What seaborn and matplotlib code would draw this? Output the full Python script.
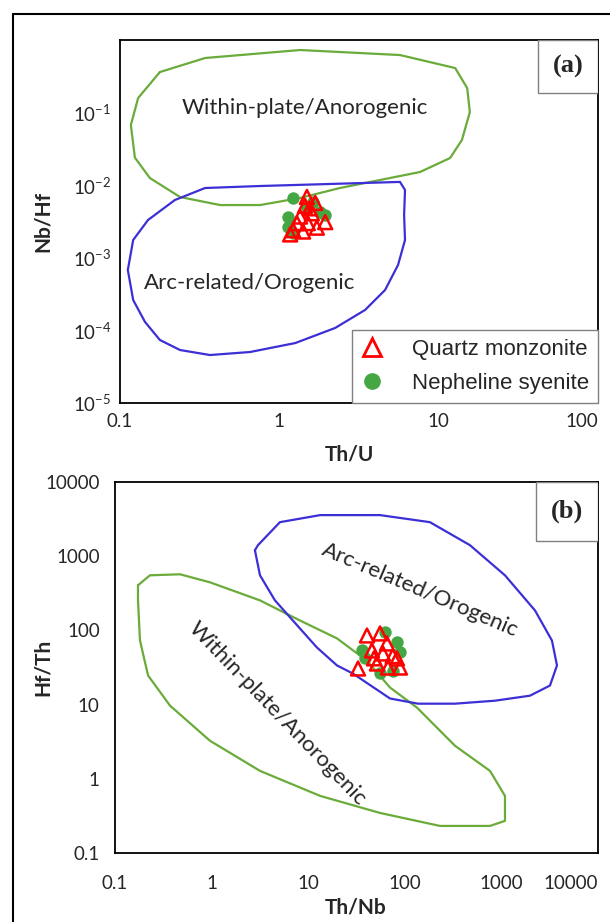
import numpy as np
import matplotlib
matplotlib.use('Agg')
import matplotlib.pyplot as plt
from matplotlib.lines import Line2D
from matplotlib.patches import Rectangle
from matplotlib.ticker import NullLocator
import seaborn as sns

sns.set_style('white')
plt.rcParams['font.family'] = ['Lato', 'DejaVu Sans']
plt.rcParams['mathtext.fontset'] = 'custom'
plt.rcParams['mathtext.rm'] = 'Lato'
plt.rcParams['mathtext.it'] = 'Lato:italic'
plt.rcParams['mathtext.bf'] = 'Lato:bold'

GREEN_LINE = '#6aab3a'
BLUE_LINE = '#3d2fd6'
RED = '#ff0000'
GREEN_DOT = '#45a743'

# ---- panel (a): Th/U vs Nb/Hf ----
wp_a_thu = [0.178, 0.342, 1.35, 5.72, 12.7, 15.1, 15.7, 14.0, 11.8, 7.64, 4.29, 2.40,
            1.35, 0.757, 0.425, 0.238, 0.154, 0.124, 0.117, 0.130]
wp_a_nbhf = [0.362, 0.565, 0.728, 0.621, 0.411, 0.218, 0.102, 0.042, 0.0237, 0.0152,
             0.0118, 0.00915, 0.00667, 0.00533, 0.00533, 0.00688, 0.01256, 0.024,
             0.0675, 0.159]

arc_a_thu = [0.342, 0.757, 2.08, 5.72, 6.15, 6.07, 6.15, 5.56, 4.61, 3.45, 2.24, 1.26,
             0.655, 0.367, 0.238, 0.178, 0.1435, 0.121, 0.112, 0.121, 0.150, 0.221]
arc_a_nbhf = [0.00915, 0.00975, 0.0104, 0.0111, 0.0086, 0.00389, 0.00176, 0.000796,
              0.00036, 0.000191, 0.000108, 6.7e-5, 5.04e-5, 4.58e-5, 5.37e-5, 7.38e-5,
              0.000131, 0.000262, 0.00068, 0.00176, 0.00332, 0.00625]

qm_a_thu = [1.49, 1.35, 1.60, 1.22, 1.41, 1.72, 1.94, 1.29, 1.51, 1.17, 1.68, 1.55, 1.45]
qm_a_nbhf = [0.0069, 0.0037, 0.0041, 0.0024, 0.0023, 0.0026, 0.0031, 0.0030, 0.0030,
             0.0021, 0.0057, 0.0048, 0.0052]
ns_a_thu = [1.22, 1.63, 1.13, 1.80, 1.94, 1.13, 1.22, 1.49]
ns_a_nbhf = [0.0067, 0.00587, 0.00365, 0.00427, 0.00389, 0.00266, 0.0022, 0.0050]

# ---- panel (b): Th/Nb vs Hf/Th ----
wp_b_thnb = [0.173, 0.230, 0.471, 0.962, 3.17, 8.23, 19.9, 40.6, 70.3, 134, 331, 762,
             1089, 1089, 762, 231, 55.4, 13.3, 3.17, 0.962, 0.371, 0.220, 0.1815, 0.173]
wp_b_hfth = [406, 553, 571, 445, 254, 136, 78, 39, 17, 9.1, 2.79, 1.28, 0.589, 0.271,
             0.232, 0.232, 0.347, 0.589, 1.28, 3.26, 9.7, 24.7, 73, 254]

arc_b_thnb = [2.81, 3.02, 5.10, 13.3, 55.4, 182, 473, 1089, 2228, 3339, 3763, 3186, 1977,
              859, 331, 137, 70.3, 29.1, 19.9, 12.3, 8.23, 4.53, 3.17]
arc_b_hfth = [1205, 1408, 2878, 3581, 3581, 2878, 1408, 553, 186, 73, 33.7, 18.1, 13.2,
              11.3, 10.3, 10.3, 12.1, 26.2, 33.7, 59, 106, 254, 553]

qm_b_thnb = [40.6, 55.4, 32.8, 83.0, 59.4, 45.7, 89.1, 51.5, 67.0, 65.4, 75, 48]
qm_b_hfth = [85.5, 91, 30.7, 41.9, 48.9, 53.7, 31.6, 35.8, 31.6, 66.7, 45, 42]
ns_b_thnb = [62.4, 83, 89.1, 36.1, 38.7, 55.4, 75.5]
ns_b_hfth = [94, 68.9, 50.5, 53.7, 41.9, 27.0, 28.8]

a_xticks = [0.1, 1, 10, 100]
a_xlabels = ['0.1', '1', '10', '100']
a_yticks = [1e-5, 1e-4, 1e-3, 1e-2, 1e-1]
a_ylabels = [r'$\mathdefault{10^{-5}}$', r'$\mathdefault{10^{-4}}$', r'$\mathdefault{10^{-3}}$',
             r'$\mathdefault{10^{-2}}$', r'$\mathdefault{10^{-1}}$']
b_ticks = [0.1, 1, 10, 100, 1000, 10000]
b_labels = ['0.1', '1', '10', '100', '1000', '10000']


def draw_field(ax, x, y, color):
    xs = np.append(x, x[0])
    ys = np.append(y, y[0])
    sns.lineplot(x=xs, y=ys, sort=False, estimator=None, color=color, lw=1.6, ax=ax)


def draw_points(ax, qx, qy, nx, ny):
    sns.scatterplot(x=nx, y=ny, marker='o', s=80, color=GREEN_DOT, edgecolor=GREEN_DOT,
                    linewidth=0, ax=ax, zorder=3)
    sns.scatterplot(x=qx, y=qy, marker='^', s=100, facecolors='none', edgecolor=RED,
                    linewidth=1.8, ax=ax, zorder=4)


def panel_box(ax, x0, y0, text):
    ax.add_patch(Rectangle((x0, y0), 1 - x0, 1 - y0, transform=ax.transAxes,
                           facecolor='white', edgecolor='#808080', lw=1, zorder=5))
    ax.text((1 + x0) / 2, (1 + y0) / 2, text, transform=ax.transAxes, ha='center',
            va='center', family='Liberation Serif', fontweight='bold', fontsize=19, zorder=6)


def style_axes(ax):
    ax.set(xscale='log', yscale='log')
    ax.xaxis.set_minor_locator(NullLocator())
    ax.yaxis.set_minor_locator(NullLocator())
    ax.tick_params(which='both', length=0, labelsize=13.5)
    for s in ax.spines.values():
        s.set_color('black')
        s.set_linewidth(1.3)


fig = plt.figure(figsize=(6.1, 9.22), dpi=100)
ax_a = fig.add_axes([0.1967, 0.5629, 0.7836, 0.3937])
ax_b = fig.add_axes([0.1885, 0.0748, 0.7918, 0.4024])

# panel (a)
style_axes(ax_a)
draw_field(ax_a, wp_a_thu, wp_a_nbhf, GREEN_LINE)
draw_field(ax_a, arc_a_thu, arc_a_nbhf, BLUE_LINE)
draw_points(ax_a, qm_a_thu, qm_a_nbhf, ns_a_thu, ns_a_nbhf)
ax_a.set_xlim(0.1, 100)
ax_a.set_ylim(1e-5, 1)
ax_a.set_xticks(a_xticks, a_xlabels)
ax_a.set_yticks(a_yticks, a_ylabels)
ax_a.tick_params(axis='x', pad=7)
ax_a.tick_params(axis='y', pad=6)
ax_a.get_xticklabels()[-1].set_ha('right')
ax_a.set_xlabel('Th/U', fontsize=15, fontweight='bold')
ax_a.set_ylabel('Nb/Hf', fontsize=15, fontweight='bold')
ax_a.xaxis.set_label_coords(0.479, -0.115)
ax_a.yaxis.set_label_coords(-0.140, 0.5)
ax_a.text(0.387, 0.813, 'Within-plate/Anorogenic', transform=ax_a.transAxes,
          ha='center', va='center', fontsize=16)
ax_a.text(0.272, 0.331, 'Arc-related/Orogenic', transform=ax_a.transAxes,
          ha='center', va='center', fontsize=16)
panel_box(ax_a, 0.874, 0.854, '(a)')

handles = [
    Line2D([], [], marker='^', ls='none', mfc='none', mec=RED, mew=2, ms=13,
           label='Quartz monzonite'),
    Line2D([], [], marker='o', ls='none', mfc=GREEN_DOT, mec=GREEN_DOT, ms=11,
           label='Nepheline syenite'),
]
leg = ax_a.legend(handles=handles, loc='lower right', bbox_to_anchor=(1, 0),
                  borderaxespad=0, frameon=True, fancybox=False, framealpha=1,
                  edgecolor='#808080', prop={'family': 'Liberation Sans', 'size': 16},
                  handlelength=1.0, handletextpad=1.3, borderpad=0.4, labelspacing=0.6)
leg.get_frame().set_linewidth(1)
leg.set_zorder(6)

# panel (b)
style_axes(ax_b)
draw_field(ax_b, wp_b_thnb, wp_b_hfth, GREEN_LINE)
draw_field(ax_b, arc_b_thnb, arc_b_hfth, BLUE_LINE)
draw_points(ax_b, qm_b_thnb, qm_b_hfth, ns_b_thnb, ns_b_hfth)
ax_b.set_xlim(0.1, 10000)
ax_b.set_ylim(0.1, 10000)
ax_b.set_xticks(b_ticks, b_labels)
ax_b.set_yticks(b_ticks, b_labels)
ax_b.tick_params(axis='x', pad=16)
ax_b.tick_params(axis='y', pad=11)
ax_b.get_xticklabels()[-1].set_ha('right')
ax_b.set_xlabel('Th/Nb', fontsize=15, fontweight='bold')
ax_b.set_ylabel('Hf/Th', fontsize=15, fontweight='bold')
ax_b.xaxis.set_label_coords(0.499, -0.119)
ax_b.yaxis.set_label_coords(-0.128, 0.5)
ax_b.text(0.631, 0.709, 'Arc-related/Orogenic', transform=ax_b.transAxes,
          ha='center', va='center', fontsize=16, rotation=-23, rotation_mode='anchor')
ax_b.text(0.337, 0.375, 'Within-plate/Anorogenic', transform=ax_b.transAxes,
          ha='center', va='center', fontsize=16, rotation=-46, rotation_mode='anchor')
panel_box(ax_b, 0.872, 0.841, '(b)')

# outer frame (left and top edges)
fig.add_artist(Line2D([13 / 610, 13 / 610], [0, 1 - 14 / 922], color='black', lw=1.5,
                      transform=fig.transFigure))
fig.add_artist(Line2D([13 / 610, 1], [1 - 14 / 922, 1 - 14 / 922], color='black', lw=1.5,
                      transform=fig.transFigure))

fig.savefig('out.png', dpi=100)
